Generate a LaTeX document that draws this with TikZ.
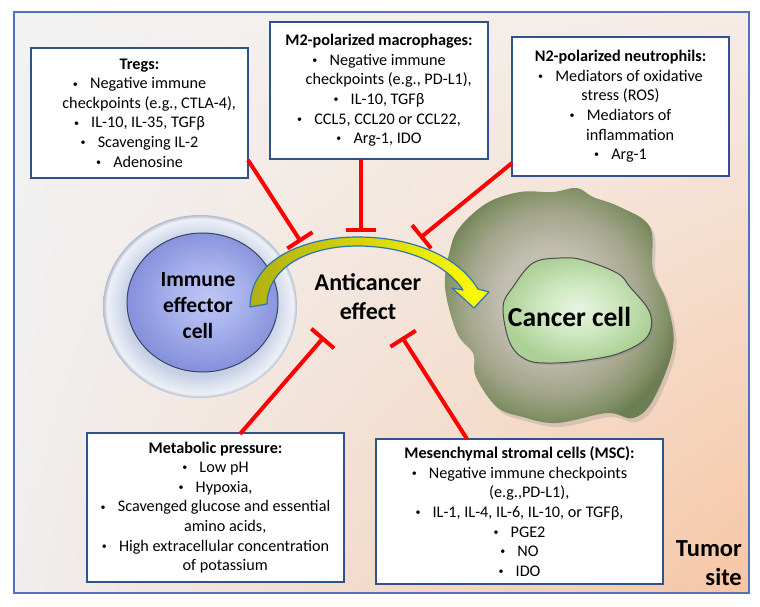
\documentclass[tikz,border=0pt]{standalone}
\usepackage{fontspec}
\setmainfont{Carlito}
\usetikzlibrary{arrows.meta,shadows,shadings}
\definecolor{framecol}{RGB}{79,113,190}
\definecolor{boxcol}{RGB}{47,82,143}
\definecolor{bgul}{RGB}{242,242,242}
\definecolor{bgur}{RGB}{245,236,230}
\definecolor{bgll}{RGB}{240,238,238}
\definecolor{bglr}{RGB}{246,198,164}
\definecolor{arrowblue}{RGB}{46,117,182}
\definecolor{arrowolive}{RGB}{176,176,20}
\definecolor{cc1}{RGB}{194,190,176}
\definecolor{cc2}{RGB}{164,166,140}
\definecolor{cc3}{RGB}{132,146,104}
\definecolor{cc4}{RGB}{110,126,84}
\definecolor{nu1}{RGB}{230,244,224}
\definecolor{nu2}{RGB}{206,232,192}
\definecolor{nu3}{RGB}{172,208,150}
\definecolor{ic1}{RGB}{188,197,243}
\definecolor{ic2}{RGB}{172,182,238}
\definecolor{ic3}{RGB}{134,146,220}
\definecolor{ir1}{RGB}{190,200,224}
\definecolor{ir2}{RGB}{198,207,228}
\definecolor{ir3}{RGB}{222,228,240}
\definecolor{ir4}{RGB}{236,240,247}
\definecolor{ir5}{RGB}{178,186,204}
\pgfdeclareradialshading{cancershade}{\pgfpoint{-2bp}{1bp}}{color(0bp)=(cc1); color(11bp)=(cc1); color(19bp)=(cc2); color(24bp)=(cc3); color(27bp)=(cc4); color(50bp)=(cc4)}
\pgfdeclareradialshading{nucshade}{\pgfpoint{0bp}{1bp}}{color(0bp)=(nu1); color(12bp)=(nu2); color(25bp)=(nu3); color(50bp)=(nu3)}
\pgfdeclareradialshading{ringshade}{\pgfpoint{0bp}{0bp}}{color(0bp)=(ir1); color(19bp)=(ir2); color(22bp)=(ir3); color(24bp)=(ir4); color(25bp)=(ir5); color(50bp)=(ir5)}
\pgfdeclareradialshading{innershade}{\pgfpoint{2bp}{2bp}}{color(0bp)=(ic1); color(10bp)=(ic2); color(25bp)=(ic3); color(50bp)=(ic3)}
\newcommand{\mybul}{\raisebox{1.8pt}{\fontsize{10}{10}\selectfont•}\hspace{0.75em}}
\newcommand{\myind}{\hspace*{1.2em}}
\tikzset{
  infobox/.style={draw=boxcol, line width=1.5pt, fill=white, align=center, inner sep=0pt,
    font={\fontsize{16.2}{19.6}\selectfont}},
  inhib/.style={draw=red, line width=4pt, -{Bar[width=30pt]}},
  bigtext/.style={font=\bfseries, align=center, inner sep=0pt}
}
\begin{document}
\begin{tikzpicture}[x=1pt,y=-1pt]
\useasboundingbox (0,0) rectangle (760,606);
% background
\shade[upper left=bgul, upper right=bgur, lower left=bgll, lower right=bglr] (14,12) rectangle (749,593);
\draw[framecol, line width=1.5pt] (14,12) rectangle (749,593);

% boxes
\node[infobox, minimum width=217pt, minimum height=130pt] (tregs) at (139.5,113) {\textbf{Tregs:}\\
\mybul Negative immune\\
\myind checkpoints (e.g., CTLA-4),\\
\mybul IL-10, IL-35, TGFβ\\
\mybul Scavenging IL-2\\
\mybul Adenosine};
\node[infobox, minimum width=218pt, minimum height=137pt] (m2) at (379,90.5) {\textbf{M2-polarized macrophages:}\\
\mybul Negative immune\\
\myind checkpoints (e.g., PD-L1),\\
\mybul IL-10, TGFβ\\
\mybul CCL5, CCL20 or CCL22,\\
\mybul Arg-1, IDO};
\node[infobox, minimum width=217pt, minimum height=139pt] (n2) at (620.5,106.5) {\textbf{N2-polarized neutrophils:}\\
\mybul Mediators of oxidative\\
stress (ROS)\\
\mybul Mediators of\\
\myind inflammation\\
\mybul Arg-1};
\node[infobox, minimum width=257pt, minimum height=149pt] (metab) at (215.5,507.5) {\textbf{Metabolic pressure:}\\
\mybul Low pH\\
\mybul Hypoxia,\\
\mybul Scavenged glucose and essential\\
\myind amino acids,\\
\mybul High extracellular concentration\\
\myind of potassium};
\node[infobox, minimum width=287pt, minimum height=145pt] (msc) at (519.5,511.5) {\textbf{Mesenchymal stromal cells (MSC):}\\
\mybul Negative immune checkpoints\\
\myind (e.g.,PD-L1),\\
\mybul IL-1, IL-4, IL-6, IL-10, or TGFβ,\\
\mybul PGE2\\
\mybul NO\\
\mybul IDO};

% inhibition connectors
\coordinate (s1) at (248,160);
\coordinate (e1) at (301,242);
\coordinate (s2) at (361,159);
\coordinate (e2) at (361,232);
\coordinate (s3) at (512,163);
\coordinate (e3) at (420,238);
\coordinate (s4) at (240,434);
\coordinate (e4) at (324,337);
\coordinate (s5) at (467,439);
\coordinate (e5) at (402,337);
\draw[inhib] (s1) -- (e1);
\draw[inhib] (s2) -- (e2);
\draw[inhib] (s3) -- (e3);
\draw[inhib] (s4) -- (e4);
\draw[inhib] (s5) -- (e5);

% immune effector cell
\shade[shading=ringshade] (200,306.5) ellipse [x radius=97, y radius=91.5];
\shade[shading=innershade, draw=ic3!45!black, line width=1pt] (202.5,302.5) ellipse [x radius=75.5, y radius=69.5];
\node[bigtext, font={\bfseries\fontsize{21.6}{26}\selectfont}] (immune) at (198,306) {Immune\\effector\\cell};

% cancer cell
\path[drop shadow={opacity=0.25, shadow xshift=3pt, shadow yshift=-4pt}] plot[smooth cycle, tension=0.6] coordinates {
(450,250) (445,287) (457,333) (473,353) (476,377) (497,407) (523,417) (557,423)
(607,413) (633,418) (653,400) (673,347) (667,303) (653,270) (650,227) (620,207)
(593,197) (577,188) (553,192) (520,192) (487,203) (460,227)};
\shade[shading=cancershade] plot[smooth cycle, tension=0.6] coordinates {
(450,250) (445,287) (457,333) (473,353) (476,377) (497,407) (523,417) (557,423)
(607,413) (633,418) (653,400) (673,347) (667,303) (653,270) (650,227) (620,207)
(593,197) (577,188) (553,192) (520,192) (487,203) (460,227)};
\shade[shading=nucshade, draw=black!70, line width=1pt, drop shadow={opacity=0.3, shadow xshift=2pt, shadow yshift=-2pt}] plot[smooth cycle, tension=0.6] coordinates {
(503,307) (513,287) (533,263) (560,258) (583,260) (617,273) (630,287) (650,313)
(647,337) (620,353) (587,360) (553,363) (527,360) (510,343)};
\node[bigtext, font={\bfseries\fontsize{27.5}{32}\selectfont}] (cancer) at (569.5,317) {Cancer cell};

% curved arrow
\shade[left color=arrowolive, right color=yellow, draw=arrowblue, line width=1.2pt, line join=round]
 (250,307) .. controls (250,256) and (310,237) .. (357,237)
 .. controls (412,237) and (458,256) .. (478,289)
 -- (489,292) -- (474,308) -- (452,288) -- (463,290)
 .. controls (445,263) and (405,246) .. (357,246)
 .. controls (312,246) and (268,265) .. (267,304) -- cycle;

% labels
\node[bigtext, font={\bfseries\fontsize{24}{29}\selectfont}] (anti) at (368,296.5) {Anticancer\\effect};
\node[bigtext, anchor=east, align=right, font={\bfseries\fontsize{24.5}{29}\selectfont}] (tumor) at (742,563.5) {Tumor\\site};
\end{tikzpicture}
\end{document}
